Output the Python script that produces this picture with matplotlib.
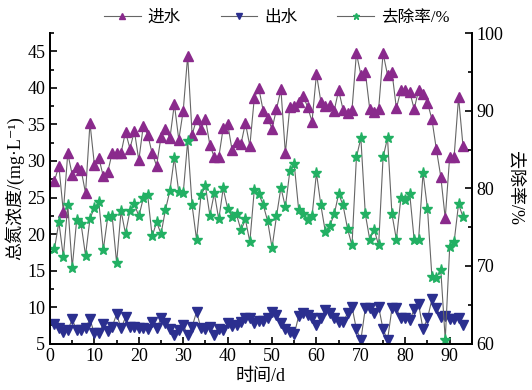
import numpy as np
import matplotlib.pyplot as plt
from matplotlib.ticker import MultipleLocator

# 时间 (d)
days = np.arange(1, 94)

# 进水 总氮浓度 (mg/L)
inflow = [27.3, 29.3, 23.05, 31.05, 28.1, 29.2, 28.8, 25.6, 35.2, 29.45,
          30.4, 27.9, 28.5, 31.1, 31.1, 31.1, 34.0, 31.7, 34.1, 30.1,
          34.8, 33.6, 31.05, 29.35, 33.3, 34.4, 33.1, 37.8, 32.9, 36.9,
          44.4, 33.6, 35.7, 34.4, 35.75, 32.2, 30.5, 30.5, 34.5, 35.1,
          31.5, 32.6, 32.3, 35.2, 32.05, 38.6, 40.0, 36.9, 35.9, 34.4,
          37.1, 39.8, 31.05, 37.4, 37.5, 38.1, 38.9, 37.4, 35.4, 41.9,
          38.1, 37.5, 37.7, 36.9, 39.7, 37.0, 36.6, 37.0, 44.75, 41.8,
          42.2, 37.1, 36.75, 37.1, 44.75, 41.8, 42.2, 37.2, 39.7, 39.7,
          39.5, 37.1, 39.7, 39.2, 38.0, 35.7, 31.6, 27.85, 22.15, 30.6,
          30.6, 38.7, 32.05]

# 出水 总氮浓度 (mg/L)
outflow = [7.67, 7.08, 6.6, 6.85, 8.3, 6.85, 6.85, 7.2, 8.3, 6.4,
           6.5, 7.67, 6.75, 7.3, 9.04, 7.08, 8.6, 7.3, 7.3, 7.2,
           7.08, 6.95, 8.0, 7.08, 8.45, 7.77, 6.95, 6.16, 6.85, 7.53,
           6.16, 7.3, 9.35, 7.08, 6.95, 7.3, 6.16, 6.95, 6.85, 7.77,
           7.4, 7.53, 8.0, 8.45, 8.45, 7.85, 8.1, 8.1, 8.45, 9.35,
           8.9, 7.85, 6.95, 6.6, 6.3, 8.77, 9.13, 8.9, 8.45, 7.53,
           8.45, 9.6, 9.13, 8.45, 8.0, 8.0, 9.13, 10.04, 6.95, 5.48,
           9.82, 9.82, 9.13, 10.04, 6.95, 5.48, 9.82, 9.82, 8.45, 8.45,
           8.2, 9.68, 10.4, 6.95, 8.45, 11.05, 9.82, 8.67, 8.77, 8.3,
           8.3, 8.45, 7.53]

# 去除率 (%)
removal = [72.2, 75.65, 71.2, 77.9, 69.8, 75.9, 75.4, 71.35, 76.1, 77.5,
           78.2, 72.1, 76.3, 76.4, 70.4, 77.1, 74.15, 77.1, 78.0, 76.4,
           78.7, 79.1, 73.8, 75.65, 74.15, 77.25, 79.7, 83.96, 79.5, 79.4,
           86.1, 77.8, 73.4, 79.1, 80.3, 76.5, 79.4, 76.0, 80.0, 77.4,
           76.3, 76.65, 74.6, 76.0, 73.1, 79.8, 79.3, 77.9, 75.8, 72.35,
           76.4, 80.1, 77.6, 82.2, 83.1, 77.2, 76.65, 75.9, 76.4, 82.0,
           77.8, 74.4, 75.2, 76.65, 79.3, 77.8, 74.8, 72.65, 84.0, 86.5,
           76.7, 73.4, 74.7, 72.65, 84.0, 86.5, 76.7, 73.4, 78.7, 78.5,
           79.3, 73.4, 73.4, 82.0, 77.4, 68.6, 68.5, 69.5, 60.5, 72.4,
           73.1, 78.0, 76.3]

fam = ['Liberation Serif', 'Noto Sans CJK SC', 'DejaVu Sans']
plt.rcParams['font.family'] = fam

fig = plt.figure(figsize=(5.32, 3.9), dpi=100)
ax = fig.add_axes([0.094, 0.119, 0.793, 0.796])
ax2 = ax.twinx()

line_c = '#666666'
l1, = ax.plot(days, inflow, color=line_c, lw=0.8, marker='^', ms=7.5,
              mfc='#8a2a8c', mec='#8a2a8c', label='进水')
l2, = ax.plot(days, outflow, color=line_c, lw=0.8, marker='v', ms=7.5,
              mfc='#2b2f8f', mec='#2b2f8f', label='出水')
l3, = ax2.plot(days, removal, color=line_c, lw=0.8, marker='*', ms=8,
               mfc='#22b063', mec='#22b063', label='去除率/%')

ax.set_xlim(0, 95)
ax.set_ylim(5, 47.5)
ax2.set_ylim(60, 100)

ax.xaxis.set_major_locator(MultipleLocator(10))
ax.xaxis.set_minor_locator(MultipleLocator(5))
ax.yaxis.set_major_locator(MultipleLocator(5))
ax.yaxis.set_minor_locator(MultipleLocator(2.5))
ax2.yaxis.set_major_locator(MultipleLocator(10))
ax2.yaxis.set_minor_locator(MultipleLocator(5))

for a in (ax, ax2):
    a.spines['top'].set_visible(False)
    a.tick_params(which='both', direction='in', labelsize=13, width=1.2)
    a.tick_params(which='major', length=5)
    a.tick_params(which='minor', length=3)
    for s in a.spines.values():
        s.set_linewidth(1.3)

ax.set_xlabel('时间/d', fontsize=13, labelpad=2)
ax.set_ylabel('总氮浓度/(mg·L⁻¹)', fontsize=13, labelpad=2)
ax2.set_ylabel('去除率/%', fontsize=13, rotation=270, labelpad=14)

fig.legend(handles=[l1, l2, l3], loc='center', bbox_to_anchor=(0.52, 0.955),
           ncol=3, frameon=False, fontsize=12, handlelength=2.2,
           columnspacing=2.4, handletextpad=0.4, markerscale=0.6)

fig.savefig('out.png', dpi=100)
